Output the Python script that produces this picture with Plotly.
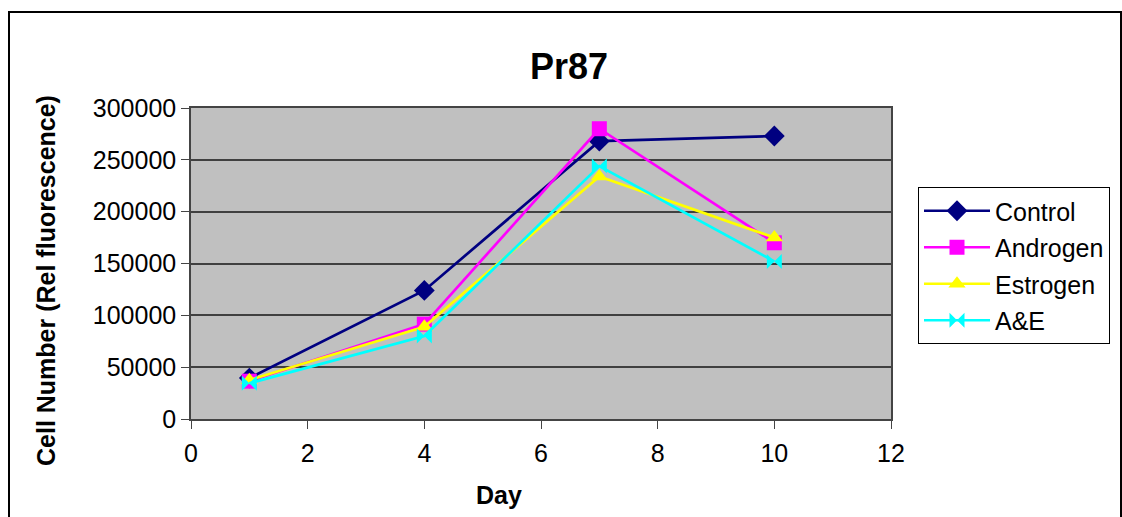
import plotly.graph_objects as go

days = [1, 4, 7, 10]
control = [39500, 124000, 268000, 273000]
androgen = [36500, 91500, 280000, 170000]
estrogen = [37500, 89000, 234000, 175000]
ae = [34500, 80000, 244000, 152000]

series = [
    ("Control", control, "#000080", "diamond", 16),
    ("Androgen", androgen, "#FF00FF", "square", 15),
    ("Estrogen", estrogen, "#FFFF00", "triangle-up", 15),
    ("A&E", ae, "#00FFFF", "bowtie", 15),
]

fig = go.Figure()
for name, vals, col, sym, sz in series:
    fig.add_trace(go.Scatter(
        x=days, y=vals, name=name, legendgroup=name, mode="lines+markers",
        line=dict(color=col, width=2.7),
        marker=dict(symbol=sym, size=sz, color=col),
    ))

font = "Liberation Sans, Arial, sans-serif"
L, R, T, B = 191, 891, 108, 419
W = R - L
H = B - T
fig.update_layout(
    width=1122, height=517,
    margin=dict(l=L, r=1122 - R, t=T, b=517 - B),
    paper_bgcolor="white", plot_bgcolor="#C0C0C0",
    font=dict(family=font, size=25, color="black"),
    title=dict(text="<b>Pr87</b>", x=569 / 1122, xanchor="center",
               y=1 - 66 / 517, yanchor="middle", font=dict(size=36)),
    xaxis=dict(range=[0, 12], tickvals=[0, 2, 4, 6, 8, 10, 12], showgrid=False,
               zeroline=False, ticks="outside", ticklen=8, tickcolor="#444",
               showline=True, linecolor="#444", linewidth=1.5, mirror=True,
               ticklabelstandoff=3),
    yaxis=dict(range=[0, 300000], tickvals=[0, 50000, 100000, 150000, 200000, 250000, 300000],
               tickformat="d", showgrid=True, gridcolor="#404040", gridwidth=1.5,
               zeroline=False, ticks="outside", ticklen=8, tickcolor="#444",
               showline=True, linecolor="#444", linewidth=1.5, mirror=True),
    legend=dict(x=(918 - L) / W, xanchor="left", y=(B - 187) / H, yanchor="top",
                bordercolor="black", borderwidth=1, bgcolor="white",
                font=dict(size=25), tracegroupgap=1, itemwidth=66),
    showlegend=True,
    annotations=[
        dict(text="<b>Cell Number (Rel fluorescence)</b>", xref="paper", yref="paper",
             x=(46 - L) / W, y=(B - 281) / H, xanchor="center", yanchor="middle",
             textangle=-90, showarrow=False, font=dict(size=25)),
        dict(text="<b>Day</b>", xref="paper", yref="paper",
             x=(499 - L) / W, y=(B - 495) / H, xanchor="center", yanchor="middle",
             showarrow=False, font=dict(size=25)),
    ],
    shapes=[dict(type="rect", xref="paper", yref="paper",
                 x0=(9 - L) / W, x1=(1121 - L) / W,
                 y0=-0.5, y1=(B - 12) / H,
                 line=dict(color="black", width=2), fillcolor="rgba(0,0,0,0)", layer="below")],
)

fig.write_html("out.html")
